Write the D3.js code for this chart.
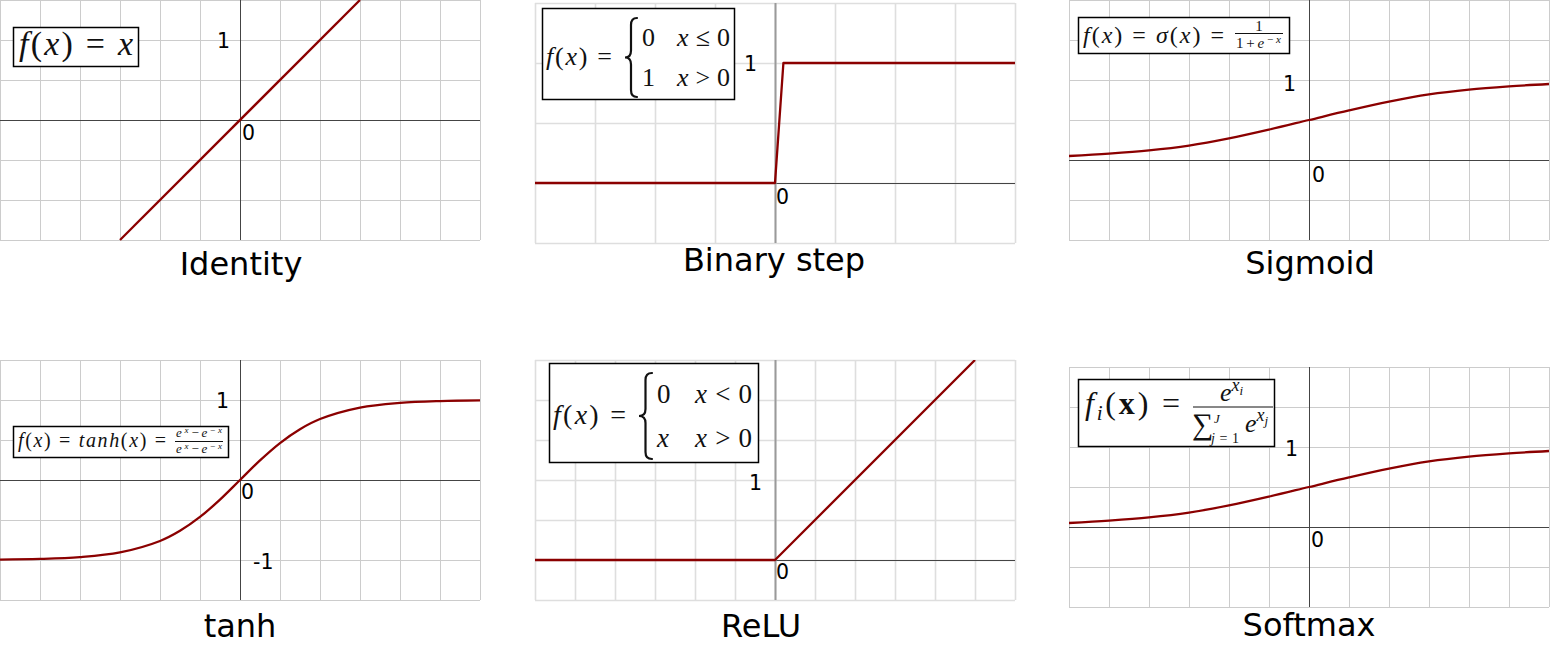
<!DOCTYPE html>
<html>
<head>
<meta charset="utf-8">
<script src="https://cdn.jsdelivr.net/npm/d3@7"></script>
<style>
  html, body { margin: 0; padding: 0; background: #fff; }
  svg { display: block; }
  text { white-space: pre; }
</style>
</head>
<body>
<svg id="chart" width="1550" height="645"></svg>
<script>
// ---------- data ----------
const titles = ["Identity", "Binary step", "Sigmoid", "tanh", "ReLU", "Softmax"];

const identityX = [-1.5, 1.5];
const identityY = [-1.5, 1.5];

const stepX = [-2, 0, 0.07, 2];
const stepY = [0, 0, 1, 1];

const sigmoidX = [-3, -2.5, -2, -1.5, -1, -0.5, 0, 0.5, 1, 1.5, 2, 2.5, 3];
const sigmoidY = [0.05, 0.08, 0.12, 0.18, 0.27, 0.38, 0.5, 0.62, 0.73, 0.82, 0.88, 0.92, 0.95];

const tanhX = [-3, -2.5, -2, -1.5, -1, -0.75, -0.5, -0.25, 0, 0.25, 0.5, 0.75, 1, 1.5, 2, 2.5, 3];
const tanhY = [-0.995, -0.987, -0.964, -0.905, -0.762, -0.635, -0.462, -0.245, 0, 0.245, 0.462, 0.635, 0.762, 0.905, 0.964, 0.987, 0.995];

const reluX = [-3, 0, 2.5];
const reluY = [0, 0, 2.5];

const softmaxX = [-3, -2.5, -2, -1.5, -1, -0.5, 0, 0.5, 1, 1.5, 2, 2.5, 3];
const softmaxY = [0.05, 0.08, 0.12, 0.18, 0.27, 0.38, 0.5, 0.62, 0.73, 0.82, 0.88, 0.92, 0.95];

const tickLabels = [
  [{v: 1, t: "1"}],
  [{v: 1, t: "1"}],
  [{v: 1, t: "1"}],
  [{v: 1, t: "1"}, {v: -1, t: "-1"}],
  [{v: 1, t: "1"}],
  [{v: 1, t: "1"}]
];
const gridStep = 0.5;

// ---------- layout ----------
const panels = [
  {x0: 0,    x1: 480,  y0: 0,   y1: 240, xd: [-3, 3], yd: [-1.5, 1.5], style: "A", xs: identityX, ys: identityY, curve: d3.curveLinear,
   title: {x: 241, y: 275}, lab1dx: -10, lab1dy: 8, lab0: {dx: 2, dy: 20}},
  {x0: 535,  x1: 1015, y0: 3,   y1: 243, xd: [-2, 2], yd: [-0.5, 1.5], style: "B", xs: stepX, ys: stepY, curve: d3.curveLinear,
   title: {x: 774, y: 271}, lab1dx: -18, lab1dy: 8, lab0: {dx: 1, dy: 21}},
  {x0: 1069, x1: 1549, y0: 0,   y1: 240, xd: [-3, 3], yd: [-1, 2], style: "A", xs: sigmoidX, ys: sigmoidY, curve: d3.curveCatmullRom,
   title: {x: 1310, y: 274}, lab1dx: -13, lab1dy: 11, lab0: {dx: 3, dy: 22}},
  {x0: 0,    x1: 480,  y0: 360, y1: 600, xd: [-3, 3], yd: [-1.5, 1.5], style: "A", xs: tanhX, ys: tanhY, curve: d3.curveCatmullRom,
   title: {x: 240, y: 637}, lab1dx: -11, lab1dy: 8, lab0: {dx: 1, dy: 19}},
  {x0: 535,  x1: 1015, y0: 360, y1: 600, xd: [-3, 3], yd: [-0.5, 2.5], style: "B", xs: reluX, ys: reluY, curve: d3.curveLinear,
   title: {x: 761, y: 637}, lab1dx: -13, lab1dy: 10, lab0: {dx: 1, dy: 19}},
  {x0: 1069, x1: 1549, y0: 367, y1: 607, xd: [-3, 3], yd: [-1, 2], style: "A", xs: softmaxX, ys: softmaxY, curve: d3.curveCatmullRom,
   title: {x: 1309, y: 636}, lab1dx: -11, lab1dy: 9, lab0: {dx: 2, dy: 20}}
];

const styles = {
  A: {grid: "#cccccc", gridW: 1, yAxis: "#444", yAxisW: 1, xAxis: "#444", xAxisW: 1},
  B: {grid: "#dedede", gridW: 1.6, yAxis: "#9a9a9a", yAxisW: 2, xAxis: "#444", xAxisW: 1}
};

const svg = d3.select("#chart");
const sans = "'DejaVu Sans', Verdana, sans-serif";
const serif = "'Liberation Serif', 'Times New Roman', serif";

panels.forEach((p, i) => {
  const st = styles[p.style];
  const x = d3.scaleLinear().domain(p.xd).range([p.x0, p.x1]);
  const y = d3.scaleLinear().domain(p.yd).range([p.y1, p.y0]);
  const g = svg.append("g");

  const gx = d3.range(p.xd[0], p.xd[1] + 1e-9, gridStep);
  const gy = d3.range(p.yd[0], p.yd[1] + 1e-9, gridStep);

  const ax = g.append("g").attr("transform", `translate(0,${p.y1})`)
    .call(d3.axisBottom(x).tickValues(gx).tickSize(-(p.y1 - p.y0)).tickFormat("").tickSizeOuter(0));
  ax.select(".domain").remove();
  ax.selectAll("line").attr("stroke", st.grid).attr("stroke-width", st.gridW);

  const ay = g.append("g").attr("transform", `translate(${p.x0},0)`)
    .call(d3.axisLeft(y).tickValues(gy).tickSize(-(p.x1 - p.x0)).tickFormat("").tickSizeOuter(0));
  ay.select(".domain").remove();
  ay.selectAll("line").attr("stroke", st.grid).attr("stroke-width", st.gridW);

  g.append("line")
    .attr("x1", p.x0).attr("x2", p.x1)
    .attr("y1", Math.round(y(0)) + 0.5).attr("y2", Math.round(y(0)) + 0.5)
    .attr("stroke", st.xAxis).attr("stroke-width", st.xAxisW);
  g.append("line")
    .attr("x1", Math.round(x(0)) + 0.5).attr("x2", Math.round(x(0)) + 0.5)
    .attr("y1", p.y0).attr("y2", p.y1)
    .attr("stroke", st.yAxis).attr("stroke-width", st.yAxisW);

  const clipId = "clip" + i;
  svg.append("clipPath").attr("id", clipId).append("rect")
    .attr("x", p.x0).attr("y", p.y0).attr("width", p.x1 - p.x0 + 1).attr("height", p.y1 - p.y0 + 1);
  const pts = p.xs.map((v, k) => [v, p.ys[k]]);
  g.append("path")
    .attr("clip-path", `url(#${clipId})`)
    .attr("d", d3.line().x(d => x(d[0])).y(d => y(d[1])).curve(p.curve)(pts))
    .attr("fill", "none").attr("stroke", "#8b0000").attr("stroke-width", 2.3)
    .attr("stroke-linejoin", "round");

  tickLabels[i].forEach(t => {
    if (t.v > 0) {
      g.append("text").attr("x", x(0) + p.lab1dx).attr("y", y(t.v) + p.lab1dy)
        .attr("text-anchor", "end").attr("font-family", sans).attr("font-size", 20.5).attr("fill", "#000").text(t.t);
    } else {
      g.append("text").attr("x", x(0) + 13).attr("y", y(t.v) + 9)
        .attr("text-anchor", "start").attr("font-family", sans).attr("font-size", 20.5).attr("fill", "#000").text(t.t);
    }
  });
  g.append("text").attr("x", x(0) + p.lab0.dx).attr("y", y(0) + p.lab0.dy)
    .attr("font-family", sans).attr("font-size", 20.5).attr("fill", "#000").text("0");

  svg.append("text").attr("x", p.title.x).attr("y", p.title.y)
    .attr("text-anchor", "middle").attr("font-family", sans).attr("font-size", 32).attr("fill", "#000")
    .text(titles[i]);
});

// ---------- formula boxes ----------
function box(x, y, w, h) {
  svg.append("rect").attr("x", x + 0.5).attr("y", y + 0.5).attr("width", w).attr("height", h)
    .attr("fill", "#fff").attr("stroke", "#000").attr("stroke-width", 1.5);
}
function math(x, y, size, parts, anchor, len) {
  const t = svg.append("text").attr("x", x).attr("y", y).attr("font-family", serif)
    .attr("font-size", size).attr("fill", "#111").attr("text-anchor", anchor || "start");
  parts.forEach(pt => {
    const [s, sty, o] = pt;
    const ts = t.append("tspan").text(s);
    if (sty === "i") ts.attr("font-style", "italic");
    if (sty === "b") ts.attr("font-weight", "bold");
    if (o) {
      if (o.dy !== undefined) ts.attr("dy", o.dy);
      if (o.dx !== undefined) ts.attr("dx", o.dx);
      if (o.size !== undefined) ts.attr("font-size", o.size);
    }
  });
  if (len) t.attr("textLength", len).attr("lengthAdjust", "spacing");
  return t;
}
function brace(x0, y0, y1, w) {
  const yc = (y0 + y1) / 2, xm = x0 + w / 2, r = 7;
  const p = d3.path();
  p.moveTo(x0 + w, y0);
  p.quadraticCurveTo(xm, y0, xm, y0 + r);
  p.lineTo(xm, yc - r);
  p.quadraticCurveTo(xm, yc, x0, yc);
  p.quadraticCurveTo(xm, yc, xm, yc + r);
  p.lineTo(xm, y1 - r);
  p.quadraticCurveTo(xm, y1, x0 + w, y1);
  svg.append("path").attr("d", p.toString()).attr("fill", "none")
    .attr("stroke", "#111").attr("stroke-width", 2.2).attr("stroke-linecap", "round");
}
function fracLine(x1, x2, y) {
  svg.append("line").attr("x1", x1).attr("x2", x2).attr("y1", y).attr("y2", y)
    .attr("stroke", "#111").attr("stroke-width", 1);
}

// Identity
box(13, 27, 125, 39);
math(19, 55, 34, [["f", "i"], ["("], ["x", "i"], [")"], [" = "], ["x", "i"]], "start", 114);

// Binary step
box(542, 8, 192, 91);
math(546, 65, 26, [["f", "i"], ["("], ["x", "i"], [")"], [" ="]], "start", 66);
brace(625, 18, 97, 12);
math(642, 46, 26, [["0"]]);
math(677, 46, 26, [["x", "i"], [" ≤ 0"]], "start", 53);
math(642, 86, 26, [["1"]]);
math(677, 86, 26, [["x", "i"], [" > 0"]], "start", 53);

// Sigmoid
box(1078, 17, 211, 36);
math(1083, 43, 24, [["f", "i"], ["("], ["x", "i"], [")"], [" = "], ["σ", "i"], ["("], ["x", "i"], [")"], [" ="]], "start", 141);
fracLine(1235, 1283, 33.5);
math(1259, 31, 15, [["1"]], "middle");
math(1236, 48, 15, [["1+"], ["e", "i"], ["−", "r", {dy: -5, size: 11}], ["x", "i", {size: 11}]], "start", 45);

// tanh
box(13, 426, 215, 31);
math(18, 447, 20, [["f", "i"], ["("], ["x", "i"], [")"], [" = "], ["tanh", "i"], ["("], ["x", "i"], [")"], [" ="]], "start", 148);
fracLine(175, 223, 441.5);
math(176, 437, 13, [["e", "i"], ["x", "i", {dy: -4, size: 9}], ["−", "r", {dy: 4}], ["e", "i"], ["−", "r", {dy: -4, size: 9}], ["x", "i", {size: 9}]], "start", 46);
math(176, 453, 13, [["e", "i"], ["x", "i", {dy: -4, size: 9}], ["−", "r", {dy: 4}], ["e", "i"], ["−", "r", {dy: -4, size: 9}], ["x", "i", {size: 9}]], "start", 46);

// ReLU
box(549, 363, 209, 99);
math(553, 424, 28, [["f", "i"], ["("], ["x", "i"], [")"], [" ="]], "start", 73);
brace(639, 373, 459, 13);
math(657, 403, 27, [["0"]]);
math(695, 403, 27, [["x", "i"], [" < 0"]], "start", 57);
math(657, 447, 27, [["x", "i"]]);
math(695, 447, 27, [["x", "i"], [" > 0"]], "start", 57);

// Softmax
box(1078, 379, 196, 67);
math(1085, 414, 32, [["f", "i"], ["i", "i", {dy: 6, size: 21}], ["(", "r", {dy: -6}], ["x", "b"], [")"], [" ="]], "start", 95);
fracLine(1193, 1273, 407);
math(1220, 401, 26, [["e", "i"], ["x", "i", {dy: -10, size: 18}], ["i", "i", {dy: 4, size: 13}]]);
math(1192, 434, 30, [["∑"]]);
math(1214, 423, 13, [["J", "i"]]);
math(1211, 443, 14, [["j", "i"], ["=1"]], "start", 28);
math(1245, 432, 26, [["e", "i"], ["x", "i", {dy: -11, size: 18}], ["j", "i", {dy: 4, size: 13}]]);
</script>
</body>
</html>
